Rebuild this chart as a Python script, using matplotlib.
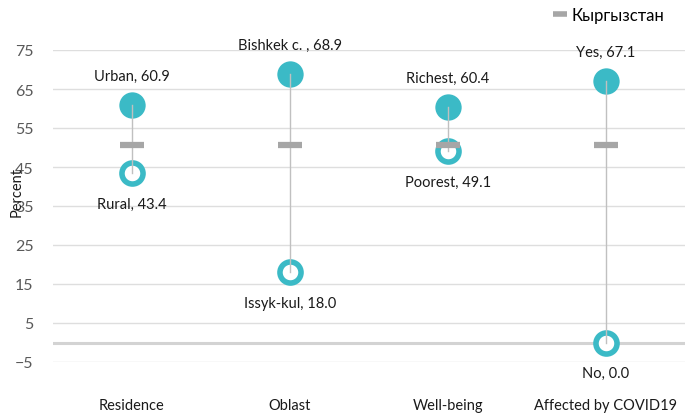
import matplotlib.pyplot as plt
from matplotlib.lines import Line2D

# data
categories = ["Residence", "Oblast", "Well-being", "Affected by COVID19"]
high_names = ["Urban", "Bishkek c. ", "Richest", "Yes"]
high_vals = [60.9, 68.9, 60.4, 67.1]
low_names = ["Rural", "Issyk-kul", "Poorest", "No"]
low_vals = [43.4, 18.0, 49.1, 0.0]
national = [50.6, 50.6, 50.6, 50.6]
yticks = [-5, 5, 15, 25, 35, 45, 55, 65, 75]

teal = "#3bbac6"
plt.rcParams['font.family'] = ['Lato', 'DejaVu Sans']

W, H = 693, 414
fig = plt.figure(figsize=(W / 100, H / 100), dpi=100)
ax = fig.add_axes([53 / W, (H - 363) / H, (685 - 53) / W, (363 - 51) / H])

x = list(range(len(categories)))

for y in yticks:
    ax.axhline(y, color="#dedede", lw=1, zorder=0)
ax.axhline(0, color="#d3d3d3", lw=2.2, zorder=0)

ax.scatter(x, high_vals, s=360, color=teal, zorder=3, linewidths=0)
ax.scatter(x, low_vals, s=230, facecolor="white", edgecolor=teal, linewidths=4, zorder=3)
for i in x:
    ax.plot([i, i], [low_vals[i], high_vals[i]], color="#c0c0c0", lw=1, zorder=4)
ax.scatter(x, national, marker="_", s=300, color="#a6a6a6", linewidths=4.5, zorder=5)

for i in x:
    ax.annotate(f"{high_names[i]}, {high_vals[i]:.1f}", (i, high_vals[i]),
                xytext=(0, 21), textcoords="offset points", ha="center", va="center",
                fontsize=10.5, color="#1a1a1a")
    ax.annotate(f"{low_names[i]}, {low_vals[i]:.1f}", (i, low_vals[i]),
                xytext=(0, -22), textcoords="offset points", ha="center", va="center",
                fontsize=10.5, color="#1a1a1a")

ax.set_xlim(-0.5, 3.5)
ax.set_ylim(-5, 75)
ax.set_yticks(yticks)
ax.set_xticks(x)
ax.set_xticklabels(categories, fontsize=10.5, color="#1a1a1a")
ax.tick_params(axis="x", length=0, pad=26)
ax.tick_params(axis="y", length=0, pad=14, labelsize=11.5, labelcolor="#595959")
for s in ax.spines.values():
    s.set_visible(False)

fig.text(17 / W, 1 - 192 / H, "Percent", rotation=90, ha="center", va="center",
         fontsize=10.5, color="#1a1a1a")

handle = Line2D([], [], color="#a6a6a6", marker="_", linestyle="none",
                markersize=10, markeredgewidth=4)
fig.legend([handle], ["Кыргызстан"], loc="center left",
           bbox_to_anchor=(545 / W, 1 - 16 / H), frameon=False, fontsize=12,
           handletextpad=0.2, handlelength=1.0, borderaxespad=0)

fig.savefig("out.png", dpi=100)
